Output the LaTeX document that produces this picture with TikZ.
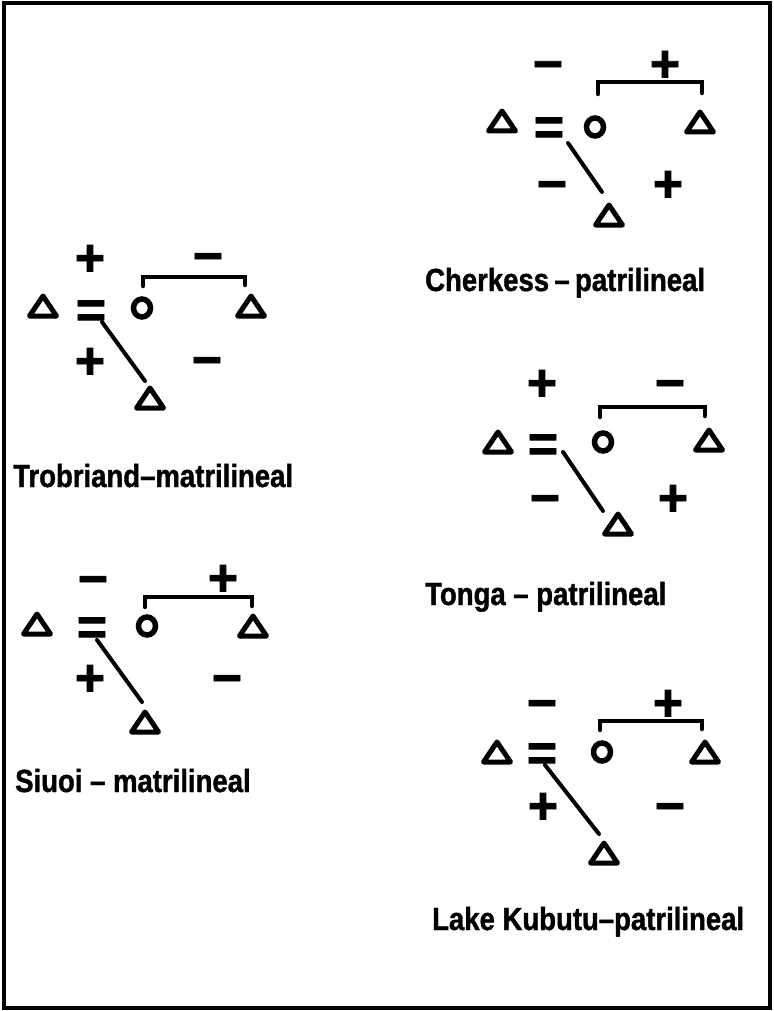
\documentclass[tikz,border=0pt]{standalone}
\usepackage{fontspec}
\setmainfont{Liberation Sans}[FakeStretch=0.86, BoldFeatures={FakeBold=1.2}]
\newfontfamily\signfont{Liberation Sans}[BoldFeatures={FakeBold=1.5}]
\usetikzlibrary{calc,shapes.geometric}
\tikzset{
  male/.style={rectangle, inner sep=0, outer sep=0, minimum width=27pt, minimum height=20pt,
    append after command={\pgfextra{\draw[line width=5pt, line join=round]
      (\tikzlastnode.north) -- (\tikzlastnode.south east) -- (\tikzlastnode.south west) -- cycle;}}},
  female/.style={ellipse, draw, line width=5.5pt, minimum width=17pt, minimum height=18pt, inner sep=0},
  sgn/.style={inner sep=0, text height=37pt, text depth=0pt, font=\signfont\fontsize{52}{54}\selectfont\bfseries},
  sibling/.style={line width=4.5pt, line cap=round},
  descent/.style={line width=4pt, line cap=round},
  lbl/.style={anchor=base west, inner sep=0, font=\fontsize{32}{36}\selectfont\bfseries}
}

\begin{document}
\begin{tikzpicture}[x=1pt, y=-1pt]
			\useasboundingbox (0,0) rectangle (773,1011);
			\draw[line width=4pt] (3.5,3.5) rectangle (770,1008);
			
			%%%%% TROBRIAND %%%%%
			\node[male] (tr-ego) at (43,306) {};
			\node[sgn] (tr-eq) at (91,309) {=};
			\node[female] (tr-wife) at (142,308) {};
			\node[male] (tr-wb) at (251,306) {};
			\node[male] (tr-son) at (150,398) {};
			\node[sgn] (tr-s1) at (90,257) {+};
			\node[sgn] (tr-s2) at (208,255) {−};
			\node[sgn] (tr-s3) at (90,360) {+};
			\node[sgn] (tr-s4) at (207,359) {−};
			\draw[sibling] ($(tr-wife)+(1,-22)$) |- ($(tr-wb.north)+(-6,-19)$) -- ++(0,8);
			\draw[descent] ($(tr-eq)+(11,13)$) -- ($(tr-son.north)+(-5,-7)$);
			\node[lbl] (tr-name) at (13,487) {Trobriand–matrilineal};
			
			%%%%% CHERKESS %%%%%
			\node[male] (ch-ego) at (502,121) {};
			\node[sgn] (ch-eq) at (549,126) {=};
			\node[female] (ch-wife) at (595,127) {};
			\node[male] (ch-wb) at (700,122) {};
			\node[male] (ch-son) at (609,215) {};
			\node[sgn] (ch-s1) at (548,63) {−};
			\node[sgn] (ch-s2) at (665,63) {+};
			\node[sgn] (ch-s3) at (552,183) {−};
			\node[sgn] (ch-s4) at (668,183) {+};
			\draw[sibling] ($(ch-wife)+(3,-33)$) |- ($(ch-wb.north)+(2,-30)$) -- ++(0,11);
			\draw[descent] ($(ch-eq)+(19,17)$) -- ($(ch-son.north)+(-7,-13)$);
			\node[lbl] (ch-name) at (425,291) {Cherkess\,–\,patrilineal};
			
			%%%%% TONGA %%%%%
			\node[male] (to-ego) at (498,442) {};
			\node[sgn] (to-eq) at (543,443) {=};
			\node[female] (to-wife) at (603,442) {};
			\node[male] (to-wb) at (709,440) {};
			\node[male] (to-son) at (618,524) {};
			\node[sgn] (to-s1) at (542,382) {+};
			\node[sgn] (to-s2) at (670,382) {−};
			\node[sgn] (to-s3) at (545,497) {−};
			\node[sgn] (to-s4) at (673,497) {+};
			\draw[sibling] ($(to-wife)+(-3,-25)$) |- ($(to-wb.north)+(-4,-23)$) -- ++(0,9);
			\draw[descent] ($(to-eq)+(20,9)$) -- ($(to-son.north)+(-15,-3)$);
			\node[lbl] (to-name) at (425,605) {Tonga – patrilineal};
			
			%%%%% SIUOI %%%%%
			\node[male] (si-ego) at (37,624) {};
			\node[sgn] (si-eq) at (92,626) {=};
			\node[female] (si-wife) at (147,626) {};
			\node[male] (si-wb) at (253,626) {};
			\node[male] (si-son) at (145,722) {};
			\node[sgn] (si-s1) at (93,578) {−};
			\node[sgn] (si-s2) at (223,577) {+};
			\node[sgn] (si-s3) at (90,677) {+};
			\node[sgn] (si-s4) at (227,677) {−};
			\draw[sibling] ($(si-wife)+(-2,-19)$) |- ($(si-wb.north)+(-1,-19)$) -- ++(0,9);
			\draw[descent] ($(si-eq)+(5,14)$) -- ($(si-son.north)+(-3,-10)$);
			\node[lbl] (si-name) at (15,792) {Siuoi – matrilineal};
			
			%%%%% LAKE KUBUTU %%%%%
			\node[male] (lk-ego) at (497,752) {};
			\node[sgn] (lk-eq) at (542,752) {=};
			\node[female] (lk-wife) at (602,752) {};
			\node[male] (lk-wb) at (705,752) {};
			\node[male] (lk-son) at (604,853) {};
			\node[sgn] (lk-s1) at (542,702) {−};
			\node[sgn] (lk-s2) at (668,702) {+};
			\node[sgn] (lk-s3) at (543,805) {+};
			\node[sgn] (lk-s4) at (670,805) {−};
			\draw[sibling] ($(lk-wife)+(-2,-22)$) |- ($(lk-wb.north)+(-3,-21)$) -- ++(0,8);
			\draw[descent] ($(lk-eq)+(3,13)$) -- ($(lk-son.north)+(-5,-9)$);
			\node[lbl] (lk-name) at (432,930) {Lake Kubutu–patrilineal};
\end{tikzpicture}
\end{document}
